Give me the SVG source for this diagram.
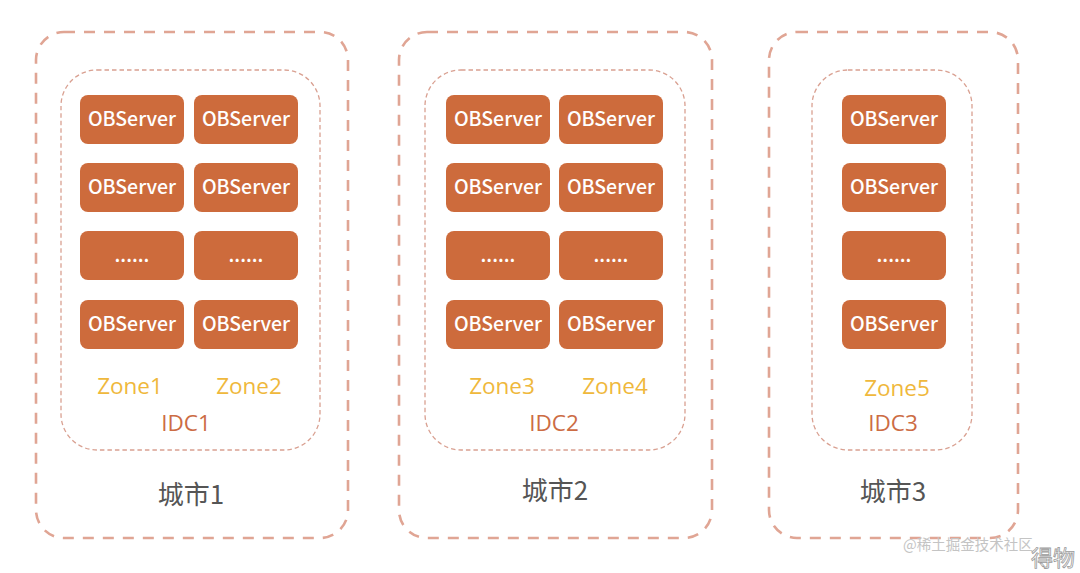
<svg xmlns="http://www.w3.org/2000/svg" width="1080" height="573" viewBox="0 0 1080 573">
<style>
.city{fill:none;stroke:#e0a594;stroke-width:2.6;stroke-dasharray:11 9}
.idc{fill:none;stroke:#d9a091;stroke-width:1.3;stroke-dasharray:4.5 3}
.ob{fill:#cd6b3c}
.obt{font-family:"Noto Sans CJK SC","Open Sans",sans-serif;font-size:19.5px;font-weight:500;fill:#ffffff;text-anchor:middle}
.zone{font-family:"Open Sans","Noto Sans",sans-serif;font-size:22.5px;fill:#efb83c;text-anchor:middle}
.idct{font-family:"Open Sans","Noto Sans",sans-serif;font-size:22.5px;fill:#cc6c44;text-anchor:middle}
.cityt{font-family:"Noto Sans CJK SC",sans-serif;font-size:26px;fill:#555555;text-anchor:middle}
.wm{font-family:"Noto Sans CJK SC",sans-serif;fill:#c4c4c4}
</style>
<rect width="1080" height="573" fill="#ffffff"/>
<g id="city1">
<rect class="city" x="36" y="32" width="312" height="506" rx="28"/>
<rect class="idc" x="61" y="70" width="259" height="380" rx="36"/>
<g id="c1r1"><rect class="ob" x="80" y="95" width="104" height="49" rx="8"/><text class="obt" x="132" y="126">OBServer</text><rect class="ob" x="194" y="95" width="104" height="49" rx="8"/><text class="obt" x="246" y="126">OBServer</text></g>
<g id="c1r2"><rect class="ob" x="80" y="163" width="104" height="49" rx="8"/><text class="obt" x="132" y="194">OBServer</text><rect class="ob" x="194" y="163" width="104" height="49" rx="8"/><text class="obt" x="246" y="194">OBServer</text></g>
<g id="c1r3"><rect class="ob" x="80" y="231" width="104" height="49" rx="8"/><text class="obt" x="132" y="262">......</text><rect class="ob" x="194" y="231" width="104" height="49" rx="8"/><text class="obt" x="246" y="262">......</text></g>
<g id="c1r4"><rect class="ob" x="80" y="300" width="104" height="49" rx="8"/><text class="obt" x="132" y="331">OBServer</text><rect class="ob" x="194" y="300" width="104" height="49" rx="8"/><text class="obt" x="246" y="331">OBServer</text></g>
<text class="zone" x="130" y="394">Zone1</text>
<text class="zone" x="249" y="394">Zone2</text>
<text class="idct" x="186" y="431">IDC1</text>
<text class="cityt" x="191" y="504">城市1</text>
</g>
<g id="city2">
<rect class="city" x="399" y="32" width="313" height="506" rx="28"/>
<rect class="idc" x="425" y="70" width="260" height="380" rx="36"/>
<g id="c2r1"><rect class="ob" x="446" y="95" width="104" height="49" rx="8"/><text class="obt" x="498" y="126">OBServer</text><rect class="ob" x="559" y="95" width="104" height="49" rx="8"/><text class="obt" x="611" y="126">OBServer</text></g>
<g id="c2r2"><rect class="ob" x="446" y="163" width="104" height="49" rx="8"/><text class="obt" x="498" y="194">OBServer</text><rect class="ob" x="559" y="163" width="104" height="49" rx="8"/><text class="obt" x="611" y="194">OBServer</text></g>
<g id="c2r3"><rect class="ob" x="446" y="231" width="104" height="49" rx="8"/><text class="obt" x="498" y="262">......</text><rect class="ob" x="559" y="231" width="104" height="49" rx="8"/><text class="obt" x="611" y="262">......</text></g>
<g id="c2r4"><rect class="ob" x="446" y="300" width="104" height="49" rx="8"/><text class="obt" x="498" y="331">OBServer</text><rect class="ob" x="559" y="300" width="104" height="49" rx="8"/><text class="obt" x="611" y="331">OBServer</text></g>
<text class="zone" x="502" y="394">Zone3</text>
<text class="zone" x="615" y="394">Zone4</text>
<text class="idct" x="554" y="431">IDC2</text>
<text class="cityt" x="555" y="500">城市2</text>
</g>
<g id="city3">
<rect class="city" x="769" y="32" width="249" height="506" rx="28"/>
<rect class="idc" x="812" y="70" width="160" height="380" rx="36"/>
<g id="c3r1"><rect class="ob" x="842" y="95" width="104" height="49" rx="8"/><text class="obt" x="894" y="126">OBServer</text></g>
<g id="c3r2"><rect class="ob" x="842" y="163" width="104" height="49" rx="8"/><text class="obt" x="894" y="194">OBServer</text></g>
<g id="c3r3"><rect class="ob" x="842" y="231" width="104" height="49" rx="8"/><text class="obt" x="894" y="262">......</text></g>
<g id="c3r4"><rect class="ob" x="842" y="300" width="104" height="49" rx="8"/><text class="obt" x="894" y="331">OBServer</text></g>
<text class="zone" x="897" y="396">Zone5</text>
<text class="idct" x="893" y="431">IDC3</text>
<text class="cityt" x="893" y="501">城市3</text>
</g>
<g id="watermark">
<text class="wm" x="903" y="550" font-size="14.5">@稀土掘金技术社区</text>
<text x="1053" y="566" font-family="Noto Sans CJK SC,sans-serif" font-size="22" fill="none" stroke="#9a9a9a" stroke-width="0.8" text-anchor="middle">得物</text>
</g>
</svg>
